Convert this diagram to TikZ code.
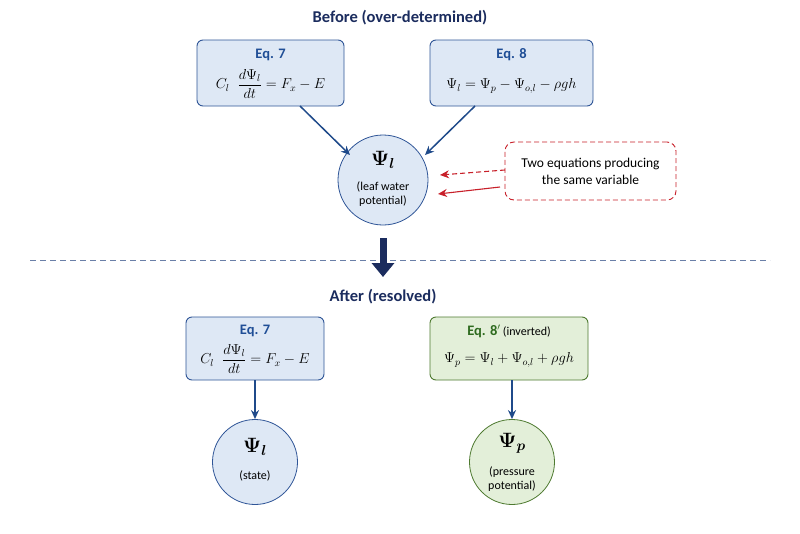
\documentclass[tikz,border=0pt]{standalone}
\usepackage{amsmath}
\usepackage{bm}
\usepackage{fontspec}
\setmainfont{Carlito}
\usetikzlibrary{arrows.meta}
\definecolor{navy}{HTML}{1B2C5E}
\definecolor{eqblue}{HTML}{1F4E96}
\definecolor{boxblue}{HTML}{DEE8F5}
\definecolor{edgeblue}{HTML}{2F5597}
\definecolor{arrblue}{HTML}{1F4A8A}
\definecolor{boxgreen}{HTML}{E3EFD9}
\definecolor{edgegreen}{HTML}{4E7A30}
\definecolor{eqgreen}{HTML}{2E6B1F}
\definecolor{redc}{HTML}{C8202A}
\definecolor{dashgray}{HTML}{6A7FA8}
\tikzset{
  eqbox/.style={draw=edgeblue, fill=boxblue, rounded corners=6pt, line width=0.9pt, minimum height=66pt, align=center, inner sep=0pt},
  greenbox/.style={draw=edgegreen, fill=boxgreen, rounded corners=6pt, line width=0.9pt, align=center, inner sep=0pt},
  varcirc/.style={circle, draw=edgeblue, fill=boxblue, line width=0.8pt, align=center, inner sep=0pt},
  greencirc/.style={circle, draw=edgegreen, fill=boxgreen, line width=0.8pt, align=center, inner sep=0pt},
  flow/.style={-{Stealth[length=9pt,width=8pt]}, draw=arrblue, line width=1.5pt},
  redarrow/.style={-{Stealth[length=9pt,width=8pt]}, draw=redc, line width=1.1pt},
  heading/.style={font=\bfseries\fontsize{16.5}{19}\selectfont, text=navy},
  eqlabel/.style={font=\bfseries\fontsize{14.5}{16}\selectfont, text=eqblue},
  mathtxt/.style={font=\fontsize{14}{17}\selectfont},
  smalltxt/.style={font=\fontsize{12}{14.5}\selectfont, align=center},
  psitxt/.style={font=\fontsize{21}{24}\selectfont},
}
\begin{document}
\begin{tikzpicture}[x=1pt,y=-1pt]
\useasboundingbox[fill=white] (0,0) rectangle (800,533);
% titles
\node[heading] (t1) at (400,18) {Before (over-determined)};
\node[heading] (t2) at (383,297) {After (resolved)};
% top boxes
\node[eqbox, minimum width=147pt] (e7) at (270.5,73) {};
\node[eqlabel] (e7l) at (270.5,55) {Eq. 7};
\node[mathtxt] (e7m) at (270.5,84) {$C_l\;\;\dfrac{d\Psi_l}{dt}=F_x-E$};
\node[eqbox, minimum width=163pt] (e8) at (511.5,73) {};
\node[eqlabel] (e8l) at (511.5,55) {Eq. 8};
\node[mathtxt] (e8m) at (511.5,86) {$\Psi_l=\Psi_p-\Psi_{o,l}-\rho g h$};
% circle
\node[varcirc, minimum size=90pt] (pl) at (383,180) {};
\node[psitxt] (plpsi) at (383,160) {$\bm{\Psi_l}$};
\node[smalltxt] (pltx) at (383,194) {(leaf water\\potential)};
% arrows top
\coordinate (a1) at (300,106);
\coordinate (a2) at (475,106);
\draw[flow] (a1) -- (350,155);
\draw[flow] (a2) -- (425,155);
% red note
\node[draw=redc, dash pattern=on 5pt off 3pt, rounded corners=9pt, line width=0.9pt, minimum width=171pt, minimum height=58pt, align=center, font=\fontsize{13.5}{17}\selectfont] (note) at (590.5,171) {Two equations producing\\the same variable};
\coordinate (r1) at (505,170);
\coordinate (r2) at (500,187);
\draw[redarrow, dash pattern=on 5pt off 3pt] (r1) -- (440,175);
\draw[redarrow] (r2) -- (438,194);
% separator
\coordinate (s1) at (30,260);
\coordinate (s2) at (770,260);
\draw[dashgray, line width=0.9pt, dash pattern=on 6pt off 4pt] (s1) -- (s2);
\coordinate (b1) at (383,238);
\coordinate (b2) at (383,277);
\draw[navy, line width=7pt, -{Triangle[length=14pt,width=22pt]}] (b1) -- (b2);
% bottom boxes
\node[eqbox, minimum width=138pt, minimum height=63pt] (f7) at (255,348.5) {};
\node[eqlabel] (f7l) at (255,331) {Eq. 7};
\node[mathtxt] (f7m) at (255,359) {$C_l\;\;\dfrac{d\Psi_l}{dt}=F_x-E$};
\node[greenbox, minimum width=158pt, minimum height=63pt] (f8) at (509,348.5) {};
\node[text=eqgreen] (f8l) at (509,331) {{\bfseries\fontsize{14.5}{16}\selectfont Eq. 8$'$} {\fontsize{12}{14}\selectfont\color{black}(inverted)}};
\node[mathtxt] (f8m) at (509,360) {$\Psi_p=\Psi_l+\Psi_{o,l}+\rho g h$};
% bottom circles
\node[varcirc, minimum size=85pt] (sl) at (255,462) {};
\node[psitxt] (slpsi) at (255,447) {$\bm{\Psi_l}$};
\node[smalltxt] (sltx) at (255,476) {(state)};
\node[greencirc, minimum size=85pt] (sp) at (512,462) {};
\node[psitxt] (sppsi) at (512,443) {$\bm{\Psi_p}$};
\node[smalltxt] (sptx) at (512,479) {(pressure\\potential)};
\draw[flow] (f7.south) -- (sl.north);
\draw[flow] (f8.south -| sp.north) -- (sp.north);
\end{tikzpicture}
\end{document}
